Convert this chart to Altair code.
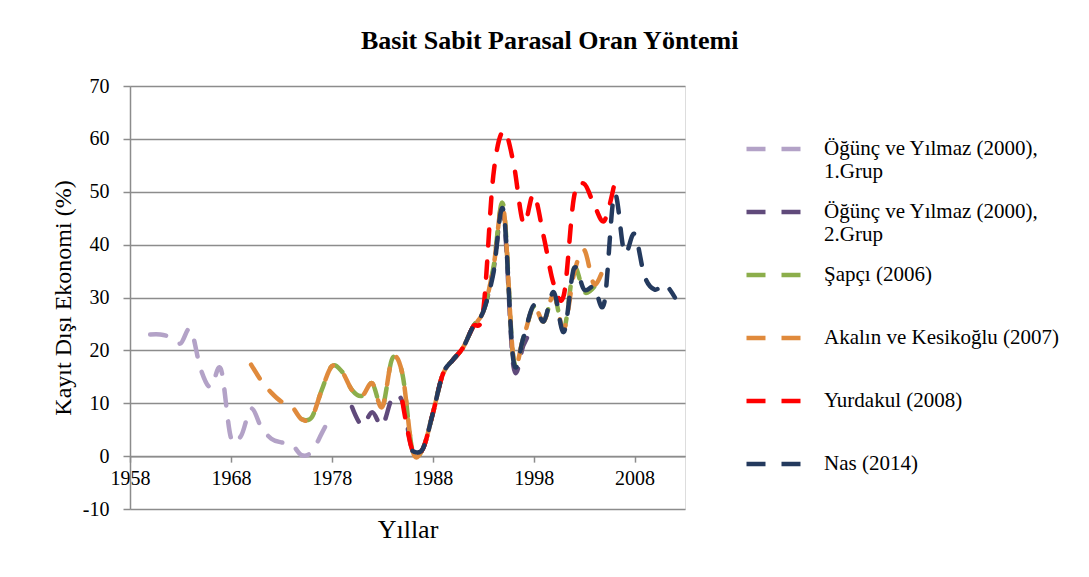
import altair as alt
import pandas as pd

# ---------------- data ----------------
series_names = [
    "Öğünç ve Yılmaz (2000), 1.Grup",
    "Öğünç ve Yılmaz (2000), 2.Grup",
    "Şapçı (2006)",
    "Akalın ve Kesikoğlu (2007)",
    "Yurdakul (2008)",
    "Nas (2014)",
]
series_colors = ["#b3a2c7", "#604a7b", "#8cae4b", "#e08a3c", "#ff0000", "#243a5e"]

ogunc1_years = list(range(1960, 1979))
ogunc1_values = [23, 23, 22.5, 21.3, 24, 16.5, 13, 16.5, 3.5, 3.8, 9, 5.5, 3.3, 2.6,
                 2.3, 0.2, 0.8, 4.3, 8]

ogunc2_years = list(range(1980, 1999))
ogunc2_values = [9.3, 5.8, 8.3, 5.8, 11, 10.3, 1, 1.3, 8, 15.5, 18.2, 20.5, 24.5, 27.3,
                 35, 46, 17, 21, 25]

sapci_years = list(range(1975, 2005))
sapci_values = [7, 7.3, 12.5, 17, 16, 12.5, 11.4, 13.8, 9.3, 18.5, 15.5,
                1, 1.3, 8, 15.5, 18.2, 20.5, 24.5, 27.3, 35.5, 47.5, 18.5, 22.5, 28.3,
                25.5, 30.5, 24, 35.5, 31, 32]

akalin_years = list(range(1970, 2006))
akalin_values = [17.3, 14.3, 12, 10.3, 9.5, 7, 7.3, 12.5, 17, 16, 12.5, 11.4, 13.8, 9.3,
                 18.5, 15.5, 1, 1.3, 8, 15.5, 18.2, 20.5, 24.5, 27.3, 35.5, 47, 18.5,
                 22.5, 28.3, 25.5, 30.5, 24, 34.5, 39, 32.5, 36]

yurdakul_years = list(range(1985, 2007))
yurdakul_values = [10.3, 1, 1.3, 8, 15.5, 18.2, 20.5, 24.5, 27.5, 53, 61.5, 55.5, 44, 49.5,
                   41.5, 32.5, 30.5, 49, 51.5, 47.5, 44.5, 51.5]

nas_years = list(range(1986, 2013))
nas_values = [1, 1.3, 8, 15.5, 18.2, 20.5, 24.5, 27.3, 34.5, 46.5, 18, 22.5, 28.5, 25.5,
              31, 23.5, 35.5, 31.5, 32, 29, 49.5, 38.5, 42, 34, 31.5, 32.5, 30]

x_ticks = [1958, 1968, 1978, 1988, 1998, 2008]
y_ticks = [-10, 0, 10, 20, 30, 40, 50, 60, 70]

all_years = [ogunc1_years, ogunc2_years, sapci_years, akalin_years, yurdakul_years, nas_years]
all_values = [ogunc1_values, ogunc2_values, sapci_values, akalin_values, yurdakul_values, nas_values]

# ---------------- layout ----------------
W, H = 555, 423
Y_MIN, Y_MAX = -10, 70
FONT = "Liberation Serif"
GRID = "#8c8c8c"

x_enc = alt.X(
    "year:Q",
    scale=alt.Scale(domain=[1958, 2013], nice=False, zero=False),
    axis=alt.Axis(
        values=x_ticks, format="d", title="Yıllar", grid=False, labelFlush=False,
        offset=-H * (0 - Y_MIN) / (Y_MAX - Y_MIN),
        domainColor=GRID, domainWidth=1.5, tickColor=GRID, tickWidth=1.5, tickSize=6,
        labelFont=FONT, labelFontSize=20, labelColor="black", labelPadding=6,
        titleFont=FONT, titleFontSize=26, titleFontWeight="normal", titleColor="black",
        titlePadding=28,
    ),
)
y_enc = alt.Y(
    "value:Q",
    scale=alt.Scale(domain=[Y_MIN, Y_MAX], nice=False, zero=False),
    axis=alt.Axis(
        values=y_ticks, title="Kayıt Dışı Ekonomi (%)", grid=True,
        labelExpr="'' + datum.value",
        gridColor=GRID, gridWidth=1.5, domainColor=GRID, domainWidth=1.5,
        tickColor=GRID, tickWidth=1.5, tickSize=7,
        labelFont=FONT, labelFontSize=20, labelColor="black", labelPadding=14,
        titleFont=FONT, titleFontSize=24, titleFontWeight="normal", titleColor="black",
        titlePadding=7,
    ),
)

legend = alt.Legend(
    title=None, orient="none", legendX=614, legendY=33,
    symbolType="stroke", symbolSize=3025, symbolStrokeWidth=4.5, symbolDash=[19, 16],
    labelFont=FONT, labelFontSize=21, labelColor="black", labelOffset=20, labelLimit=600,
    labelBaseline="middle", rowPadding=-1, padding=0,
    labelExpr=(
        "indexof(datum.label, ', ') >= 0 ? "
        "[split(datum.label, ', ')[0] + ',', split(datum.label, ', ')[1]] : "
        "[datum.label, '']"
    ),
)
color_enc = alt.Color(
    "series:N",
    scale=alt.Scale(domain=series_names, range=series_colors),
    sort=series_names,
    legend=legend,
)

layers = []
for name, yrs, vals in zip(series_names, all_years, all_values):
    df = pd.DataFrame({"year": yrs, "value": vals, "series": name})
    layers.append(
        alt.Chart(df).mark_line(
            interpolate="cardinal", strokeWidth=4.5, strokeDash=[16, 16], strokeCap="round"
        ).encode(x=x_enc, y=y_enc, color=color_enc)
    )

chart = alt.layer(*layers).properties(
    width=W, height=H,
    title=alt.TitleParams(
        "Basit Sabit Parasal Oran Yöntemi", font=FONT, fontSize=26, fontWeight="bold",
        color="black", anchor="middle", frame="bounds", offset=22, dx=-6,
    ),
    autosize=alt.AutoSizeParams(type="none"),
    padding={"left": 122, "top": 78, "right": 396, "bottom": 60},
).configure_view(strokeWidth=0).configure(background="white")

chart.save("out.html", embed_options={"renderer": "svg", "actions": False})
